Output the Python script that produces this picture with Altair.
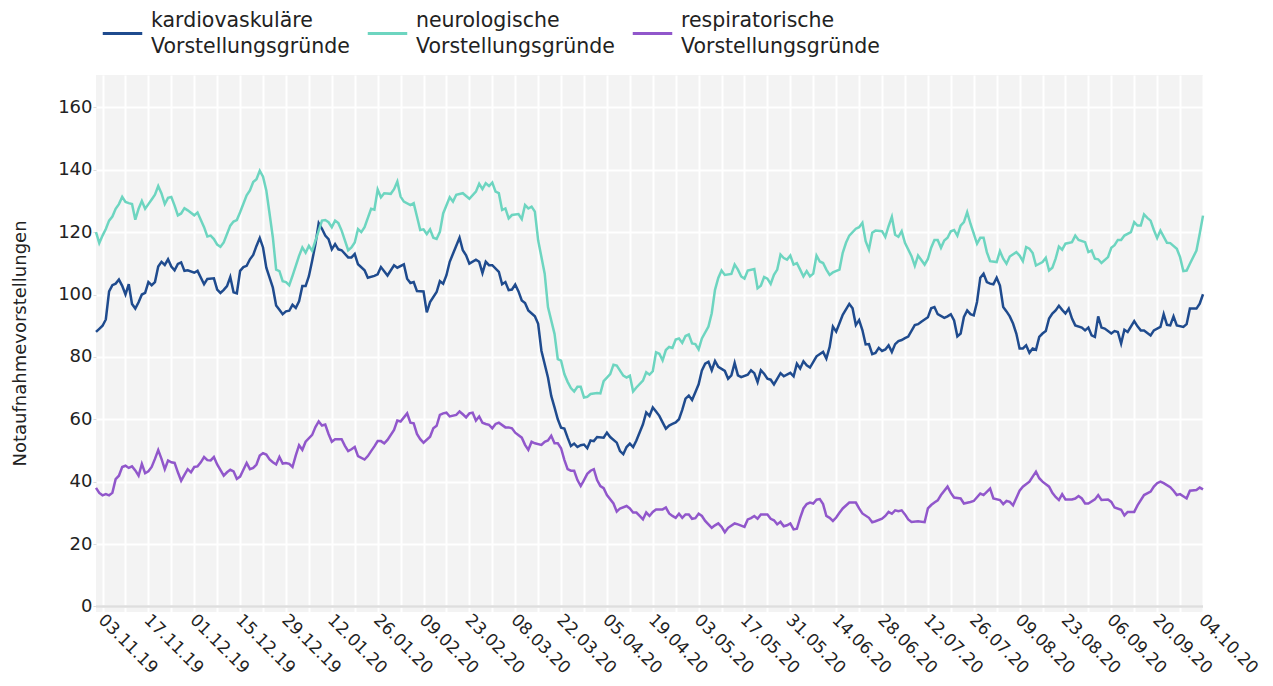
import altair as alt
import pandas as pd

START = "2019-11-01"

# (day offset from START, value)
kardio = [(0, 88), (1, 89), (2, 90), (3, 92), (4, 101), (5, 103), (6, 103.5), (7, 104.8), (8, 102.8), (9, 100),
          (10, 103.3), (11, 97), (12, 95.5), (13, 97.5), (14, 100), (15, 100.5), (16, 104), (17, 103), (18, 104),
          (19, 109), (20, 110.5), (21, 109.5), (22, 111.3), (23, 109), (24, 107.8), (25, 109.8), (26, 110.3),
          (27, 107.6), (28, 107.8), (30, 107), (31, 107.6), (33, 103.3), (34, 105), (36, 105.2), (37, 101.6),
          (38, 100.5), (39, 101.5), (40, 102.7), (41, 105.6), (42, 100.7), (43, 100.4), (44, 107.6), (45, 108.8),
          (46, 109.2), (47, 111.3), (48, 112.7), (49, 115.6), (50, 118.1), (51, 115.1), (52, 108.6), (54, 102.2),
          (55, 96.5), (56, 95.1), (57, 93.7), (58, 94.6), (59, 94.8), (60, 96.7), (61, 95.7), (62, 97.8),
          (63, 102.7), (64, 102.7), (65, 105.9), (66, 110.8), (67, 116.2), (68, 122.9), (69, 121.1), (70, 118.9),
          (71, 117.8), (72, 114.5), (73, 116.2), (74, 114.5), (75, 114.2), (77, 111.9), (78, 111.9), (79, 113),
          (80, 109.7), (82, 107.8), (83, 105.4), (85, 106), (86, 106.5), (87, 108.8), (89, 106.1), (91, 109.4),
          (92, 108.6), (94, 109.7), (95, 105.1), (96, 103.7), (97, 104), (98, 101.1), (100, 101), (101, 94.3),
          (102, 97.6), (104, 100.8), (105, 104.3), (106, 103.5), (107, 106.2), (108, 110.5), (109, 113.1),
          (111, 118.2), (112, 114.2), (113, 112.6), (114, 109.9), (116, 111.2), (117, 110.5), (118, 106.9),
          (119, 110.5), (120, 109.4), (121, 109.4), (123, 107.3), (124, 103.3), (125, 104), (126, 101.4),
          (127, 101.6), (128, 103.2), (129, 101), (130, 98.1), (131, 97.3), (132, 94.9), (134, 93), (135, 90.6),
          (136, 82), (138, 73.4), (139, 67.5), (140, 63.8), (141, 60), (142, 57.3), (143, 57), (144, 54.1),
          (145, 51.4), (146, 52.2), (147, 51.1), (148, 51.7), (149, 51.9), (150, 50.7), (151, 53.2), (152, 53),
          (153, 54.3), (155, 54.1), (156, 55.7), (157, 54.3), (159, 52.5), (160, 49.8), (161, 48.8), (162, 51.1),
          (163, 52.2), (164, 51.1), (165, 53.2), (167, 58.4), (168, 62.2), (169, 61.1), (170, 63.8), (171, 62.5),
          (172, 61.1), (173, 59), (174, 57), (175, 58), (176, 58.5), (177, 59), (178, 60), (179, 63), (180, 66.6),
          (181, 67.6), (182, 66.2), (183, 68.7), (184, 71.2), (185, 75.7), (186, 77.8), (187, 78.4), (188, 75.7),
          (189, 78.7), (190, 76.8), (192, 75.5), (193, 73), (194, 74.1), (195, 78.1), (196, 74.1), (197, 73.5),
          (199, 74.3), (200, 75.7), (201, 74.8), (202, 71.9), (203, 75.7), (204, 74.6), (205, 73), (206, 72.7),
          (207, 71.2), (209, 74.8), (210, 73.8), (212, 74.9), (213, 73.8), (214, 77.8), (215, 76.3), (216, 78.6),
          (217, 77.3), (218, 76.6), (220, 80.2), (222, 81.6), (223, 79.5), (224, 83.2), (225, 89.7), (226, 88.1),
          (227, 90.8), (228, 93.5), (230, 97), (231, 95.6), (232, 90.2), (233, 91.8), (234, 88.6), (235, 84),
          (236, 84.1), (237, 80.9), (238, 81.3), (239, 82.9), (240, 81.9), (241, 82.4), (242, 83.7), (243, 81.6),
          (244, 84.1), (245, 85.1), (246, 85.4), (247, 86), (248, 86.5), (250, 90.2), (251, 90.5), (252, 91.3),
          (254, 92.7), (255, 95.6), (256, 96), (257, 93.7), (259, 92.5), (260, 93), (261, 93.7), (262, 91.7),
          (263, 86.6), (264, 87.5), (265, 92.8), (266, 94.9), (267, 93.7), (268, 93.3), (269, 97.6), (270, 105.4),
          (271, 106.7), (272, 104), (273, 103.5), (274, 103.3), (275, 105.4), (276, 102.9), (277, 96), (278, 94.6),
          (279, 93), (280, 90.7), (281, 87.5), (282, 82.7), (283, 82.7), (284, 83.7), (285, 81.3), (286, 82.7),
          (287, 82.3), (288, 86.4), (289, 87.5), (290, 88.3), (291, 92.3), (292, 93.9), (293, 94.9), (294, 96.4),
          (295, 95.1), (296, 93.9), (297, 95.5), (298, 92.3), (299, 90.1), (301, 89.4), (302, 88.5), (303, 89.4),
          (304, 86.9), (305, 86.4), (306, 93), (307, 89.4), (308, 89.1), (310, 87.5), (311, 88.3), (312, 88),
          (313, 84.3), (314, 88.7), (315, 88), (317, 91.5), (318, 89.8), (319, 88.5), (320, 88.5), (322, 86.9),
          (323, 88.5), (325, 89.6), (326, 93.7), (327, 90.3), (328, 90.1), (329, 93), (330, 90.1), (332, 89.6),
          (333, 90.5), (334, 95.5), (336, 95.5), (337, 97.1), (338, 100.1)]

neuro = [(0, 120), (1, 116.5), (2, 118.9), (3, 121), (4, 123.7), (5, 125), (6, 127.5), (7, 129), (8, 131.3),
         (9, 129.7), (10, 129.3), (11, 129), (12, 124), (13, 127.5), (14, 130), (15, 127.5), (16, 129), (17, 130.5),
         (18, 132), (19, 134.8), (20, 132.4), (21, 129), (22, 131), (23, 131.3), (24, 128.5), (25, 125.4), (26, 126),
         (27, 127.7), (28, 127), (30, 125.4), (31, 126.3), (33, 121.6), (34, 118.6), (35, 118.9), (36, 117.8),
         (37, 116), (38, 115.3), (39, 116.7), (41, 122.1), (42, 123.4), (43, 123.9), (44, 126.4), (46, 131.8),
         (47, 133.4), (48, 136.1), (49, 137), (50, 139.7), (51, 137.8), (52, 133.4), (53, 125.9), (54, 118.3),
         (55, 108), (56, 107.5), (57, 104.3), (58, 104), (59, 103), (60, 106), (62, 112.4), (63, 115.1), (64, 113.4),
         (65, 115.6), (66, 114), (67, 117.3), (69, 123.7), (70, 123.9), (71, 123.2), (72, 121.6), (73, 123.7),
         (74, 122.9), (75, 120.5), (77, 114.2), (78, 115.1), (79, 116.7), (80, 121), (81, 120), (82, 121.6),
         (84, 127.5), (85, 127.2), (86, 133.7), (87, 131.2), (88, 132.5), (90, 132.3), (91, 133.8), (92, 136.2),
         (93, 131.4), (94, 129.8), (96, 128.7), (97, 129.3), (98, 125), (99, 120.7), (100, 120.9), (101, 119.4),
         (102, 120.9), (103, 118.2), (104, 117.8), (105, 120.1), (106, 126), (108, 131.2), (109, 129.8), (110, 132),
         (112, 132.5), (114, 130.7), (116, 133), (117, 135.5), (118, 133.8), (119, 135.7), (120, 134.8),
         (121, 135.9), (122, 133), (123, 132.5), (124, 127.1), (125, 127.6), (126, 124.4), (127, 125.5),
         (129, 125.8), (130, 124.2), (131, 128.7), (132, 127.6), (133, 128.2), (134, 126.6), (135, 117.4),
         (137, 106.7), (138, 96), (140, 87.4), (141, 79.3), (142, 78.8), (143, 74.5), (144, 72), (145, 70),
         (146, 68.9), (147, 70.4), (148, 70.4), (149, 67), (150, 67.2), (151, 68.1), (153, 68.4), (154, 68.3),
         (155, 72.2), (157, 74.5), (158, 77.5), (159, 77.2), (161, 74), (162, 73.4), (163, 74), (164, 68.9),
         (165, 70.2), (167, 72.4), (168, 75.1), (169, 74.3), (170, 75.4), (171, 81.5), (172, 81), (173, 78.9),
         (174, 82.2), (175, 83.2), (176, 82.9), (177, 85.6), (178, 85.9), (179, 84.5), (180, 86.7), (181, 87.2),
         (182, 84.3), (183, 84.1), (184, 82.4), (185, 85.9), (187, 89.7), (188, 94), (189, 101.5), (190, 105.3),
         (191, 107.7), (192, 106.3), (194, 106.6), (195, 109.6), (196, 108), (197, 105.8), (198, 105.1),
         (199, 107.7), (201, 108.2), (202, 102), (203, 102.8), (204, 105.6), (205, 105.1), (206, 103.4),
         (207, 106.3), (208, 108), (209, 112.8), (210, 111.7), (211, 111.2), (212, 112.5), (213, 109.6),
         (214, 110.1), (215, 108), (216, 105.8), (217, 107.5), (218, 105.8), (219, 106.7), (220, 112.5),
         (221, 110.6), (222, 110.1), (223, 108), (224, 106.3), (225, 107.1), (227, 108), (228, 113.4), (229, 116.6),
         (230, 118.9), (232, 121.1), (233, 121.6), (234, 123), (235, 117.1), (236, 114.4), (237, 119.8),
         (238, 120.5), (240, 120.3), (241, 118.5), (242, 121.9), (243, 124.9), (244, 119.2), (245, 118.5),
         (246, 120.3), (247, 116.6), (249, 112.3), (250, 109.2), (251, 112.5), (253, 109.6), (254, 111.4),
         (255, 115), (256, 117.5), (257, 117.5), (258, 115), (259, 117.3), (260, 118.2), (261, 120.3), (262, 120.7),
         (263, 118.9), (264, 122.1), (265, 123.2), (266, 126.4), (267, 122.7), (269, 116.3), (270, 118.2),
         (271, 118.2), (272, 113.6), (273, 110.7), (275, 110.4), (276, 113.9), (277, 111.5), (278, 109.9),
         (279, 112.2), (281, 113.6), (282, 112.5), (283, 110.7), (284, 115.2), (285, 114.7), (286, 113.3),
         (287, 109.3), (289, 110.4), (290, 111.8), (291, 107.7), (292, 108.6), (293, 111.5), (294, 115.4),
         (295, 114.4), (296, 116.3), (298, 116.8), (299, 118.9), (300, 117.5), (302, 116.8), (303, 113.6),
         (304, 114.1), (305, 111.5), (306, 111.3), (307, 110.1), (309, 112), (310, 115), (311, 115.8), (312, 117.5),
         (313, 117.5), (314, 118.9), (316, 120), (317, 123.2), (318, 122.1), (319, 122.1), (320, 125.7),
         (321, 124.6), (322, 123.7), (323, 120.7), (324, 118.1), (325, 120.5), (327, 116.6), (328, 116.5),
         (330, 114.7), (331, 112), (332, 107.5), (333, 107.7), (334, 109.9), (336, 114.1), (337, 119.5),
         (338, 125.3)]

resp = [(0, 38), (1, 36.4), (2, 35.6), (3, 36), (4, 35.6), (5, 36.4), (6, 40.8), (7, 41.9), (8, 44.7), (9, 45.1),
        (10, 44.4), (11, 44.9), (12, 43.6), (13, 41.9), (14, 45.7), (15, 42.7), (16, 43.3), (17, 44.7), (18, 47.3),
        (19, 50.1), (20, 47.3), (21, 44), (22, 46.8), (23, 46.2), (24, 46), (25, 43), (26, 40.3), (27, 42.2),
        (28, 44), (29, 43), (30, 44.7), (31, 44.9), (32, 46.2), (33, 47.9), (34, 46.9), (35, 46.8), (36, 47.9),
        (37, 45.5), (39, 41.9), (40, 43), (41, 43.8), (42, 43.3), (43, 40.9), (44, 41.6), (45, 43.8), (46, 46),
        (47, 44), (48, 44.4), (49, 45.5), (50, 48.4), (51, 49.1), (52, 48.7), (53, 47.1), (54, 46.2), (55, 45.5),
        (56, 47.9), (57, 45.8), (58, 46), (59, 45.7), (60, 44.7), (61, 48.4), (62, 51.7), (63, 50.2), (64, 52.8),
        (66, 55), (67, 57.5), (68, 59.3), (69, 58), (70, 58.3), (71, 55.3), (72, 52.8), (73, 53.6), (75, 53.6),
        (76, 51.5), (77, 49.8), (78, 50.4), (79, 51.1), (80, 48.2), (82, 47.1), (83, 48.2), (84, 49.8), (85, 51.3),
        (86, 53), (87, 53), (88, 52.3), (89, 53.4), (91, 56.6), (92, 59.6), (93, 59.3), (95, 61.9), (96, 58.9),
        (97, 58.7), (98, 55.3), (99, 53.6), (100, 52.5), (102, 54.4), (103, 57.1), (104, 57.9), (105, 61.4),
        (106, 61.9), (107, 62.1), (108, 60.9), (110, 61.4), (111, 62.5), (112, 61.6), (113, 60.6), (114, 61.9),
        (115, 62.1), (116, 59.6), (117, 60.9), (118, 58.9), (119, 58.5), (120, 58.2), (121, 57.1), (122, 58.5),
        (123, 58.9), (125, 57.4), (126, 57.4), (127, 57.1), (128, 55.7), (130, 54.1), (131, 51.8), (132, 50.2),
        (133, 52.8), (134, 52.3), (136, 51.8), (137, 52.8), (138, 53.2), (139, 54.7), (140, 52.3), (141, 52.3),
        (142, 50.7), (143, 47), (144, 44), (145, 43.5), (146, 43.5), (147, 40.5), (148, 38.6), (149, 40.5),
        (150, 42.5), (151, 43.5), (152, 44), (153, 40.5), (154, 38.6), (155, 37.9), (156, 35.7), (158, 33),
        (159, 30.4), (160, 31.4), (162, 32.2), (163, 31.4), (164, 30.1), (165, 30.1), (166, 29), (167, 27.9),
        (168, 30.1), (169, 29), (170, 30.3), (171, 31.1), (173, 31.1), (174, 31.7), (175, 29.8), (176, 29),
        (177, 28.4), (178, 29.7), (179, 28.4), (180, 29.5), (181, 29.5), (182, 28.1), (183, 28.3), (184, 29.7),
        (185, 29), (186, 27.4), (188, 25.2), (189, 26), (190, 26.6), (191, 25.5), (192, 23.8), (193, 25.2),
        (195, 26.6), (196, 26.3), (198, 25.5), (199, 27.9), (200, 28.3), (201, 29), (202, 28.1), (203, 29.5),
        (205, 29.5), (206, 28.1), (207, 27.6), (208, 26.3), (209, 27.1), (210, 25.7), (211, 26), (212, 26.6),
        (213, 24.7), (214, 24.9), (215, 28.4), (216, 31.4), (217, 32.8), (218, 33.3), (219, 33), (220, 34.2),
        (221, 34.4), (222, 32.8), (223, 29), (224, 28.4), (225, 27.4), (226, 28.5), (227, 30), (228, 31.4),
        (230, 33.3), (232, 33.3), (233, 31.4), (234, 29.8), (236, 28.4), (237, 27), (238, 27.3), (240, 28.1),
        (241, 29), (242, 30.3), (243, 29.7), (244, 30.8), (245, 30.5), (246, 30.8), (247, 29.5), (248, 27.9),
        (249, 27.1), (251, 27.3), (253, 27), (254, 31.4), (255, 32.5), (256, 33.3), (257, 34), (258, 35.7),
        (260, 38.4), (261, 36.4), (262, 34.9), (264, 34.6), (265, 33), (267, 33.5), (268, 33.8), (270, 36.2),
        (271, 35.7), (273, 37.8), (274, 34.6), (276, 34.1), (277, 32.8), (278, 33.8), (279, 33.5), (280, 32.4),
        (282, 37.1), (283, 38.4), (285, 40), (286, 41.6), (287, 43.2), (288, 41.1), (289, 40), (291, 38.4),
        (292, 36.4), (293, 35.1), (294, 34.1), (295, 36), (296, 34.3), (298, 34.3), (299, 34.6), (300, 35.4),
        (301, 34.6), (302, 33), (303, 33), (305, 34.3), (306, 35.7), (307, 34.1), (309, 34.3), (310, 33.5),
        (311, 31.7), (313, 31), (314, 29.2), (315, 30.3), (317, 30.3), (318, 32.4), (320, 35.7), (322, 36.8),
        (323, 38.4), (324, 39.5), (325, 40), (326, 39.5), (328, 38.2), (329, 37.1), (330, 35.7), (331, 36),
        (333, 34.6), (334, 37.1), (336, 37.3), (337, 38.1), (338, 37.5)]

series_names = ["kardiovaskuläre Vorstellungsgründe",
                "neurologische Vorstellungsgründe",
                "respiratorische Vorstellungsgründe"]
series_colors = ["#1f4b8e", "#6dd5c0", "#9157cb"]
y_ticks = [0, 20, 40, 60, 80, 100, 120, 140, 160]
week_ticks = pd.date_range("2019-11-03", "2020-10-04", freq="7D")

frames = []
for name, pairs in zip(series_names, [kardio, neuro, resp]):
    days = [p[0] for p in pairs]
    vals = [p[1] for p in pairs]
    dates = pd.Timestamp(START) + pd.to_timedelta(days, unit="D")
    frames.append(pd.DataFrame({
        "datum": dates.strftime("%Y-%m-%dT00:00:00"),
        "wert": vals,
        "grund": name,
    }))
df = pd.concat(frames, ignore_index=True)
zero_df = pd.DataFrame({"wert": [0]})

FONT = "DejaVu Sans"
TXT = "#222222"
FS = 18

x_values = [alt.DateTime(year=d.year, month=d.month, date=d.day) for d in week_ticks]

x_enc = alt.X("datum:T",
              scale=alt.Scale(domain=[alt.DateTime(year=2019, month=11, date=1),
                                      alt.DateTime(year=2020, month=10, date=4)], nice=False),
              axis=alt.Axis(title=None, values=x_values, grid=True, ticks=False, domain=False,
                            labelAngle=45, labelAlign="left", labelBaseline="middle",
                            labelPadding=5, labelOffset=-2, labelFontSize=17, labelColor=TXT,
                            labelFont=FONT, labelOverlap=False, labelFlush=False,
                            labelExpr="round((datum.value - datetime(2019,10,3)) / 604800000) % 2 == 0 ? timeFormat(datum.value, '%d.%m.%y') : ''"))
y_enc = alt.Y("wert:Q",
              scale=alt.Scale(domain=[-1.8, 170.4], nice=False, zero=False),
              axis=alt.Axis(title="Notaufnahmevorstellungen", values=y_ticks, grid=True, domain=False,
                            ticks=True, tickSize=3, tickColor="#dddddd", labelPadding=1,
                            labelFontSize=FS, labelColor=TXT, labelFont=FONT,
                            titleFontSize=FS, titleFont=FONT, titleColor=TXT, titleFontWeight="normal",
                            titleX=-76, titleY=268, titleBaseline="middle", titleAngle=270))

zero_line = alt.Chart(zero_df).mark_rule(color="#dedede", strokeWidth=2.5).encode(y=y_enc)

lines = alt.Chart(df).mark_line(strokeWidth=2.5, interpolate="linear").encode(
    x=x_enc,
    y=y_enc,
    color=alt.Color("grund:N",
                    scale=alt.Scale(domain=series_names, range=series_colors),
                    legend=alt.Legend(orient="none", legendX=5, legendY=-63, direction="horizontal",
                                      title=None, symbolType="stroke", symbolStrokeWidth=3,
                                      symbolSize=1560, labelFontSize=20.5, labelFont=FONT, labelColor=TXT,
                                      labelLimit=500, labelOffset=7, columnPadding=11, padding=0,
                                      labelBaseline="line-bottom",
                                      labelExpr="split(datum.label, ' ')")),
)

chart = alt.layer(zero_line, lines).properties(
    width=1107,
    height=537,
    autosize=alt.AutoSizeParams(type="none"),
    padding={"left": 88, "top": 67, "right": 62, "bottom": 70},
).configure(
    style={"guide-label": {"lineHeight": 26}}
).configure_view(
    fill="#f3f3f3", stroke=None
).configure_axis(
    gridColor="#ffffff", gridWidth=2
)

chart.save("out.html", embed_options={"renderer": "svg", "actions": False})
